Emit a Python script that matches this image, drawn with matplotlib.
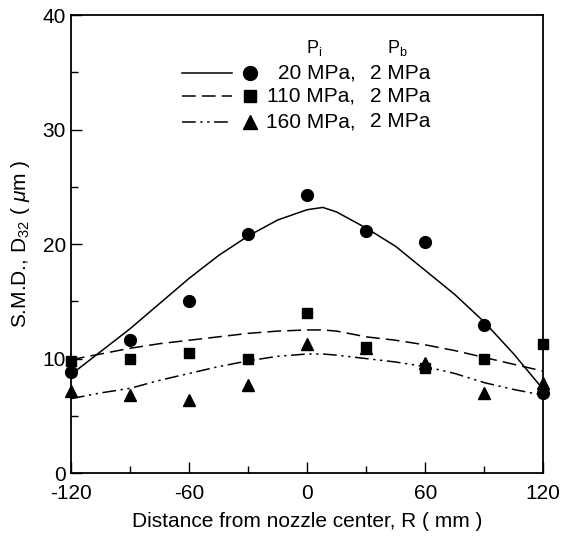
import matplotlib
matplotlib.use("Agg")
import matplotlib.pyplot as plt

plt.rcParams['font.family'] = ['Liberation Sans', 'DejaVu Sans']
plt.rcParams['mathtext.fontset'] = 'custom'
plt.rcParams['mathtext.rm'] = 'Liberation Sans'
plt.rcParams['mathtext.it'] = 'Liberation Sans:italic'
plt.rcParams['axes.unicode_minus'] = False

# measured points
r_pts = [-120, -90, -60, -30, 0, 30, 60, 90, 120]
smd_20 = [8.8, 11.6, 15.0, 20.9, 24.3, 21.1, 20.2, 12.9, 7.0]
smd_110 = [9.8, 10.0, 10.5, 10.0, 14.0, 11.0, 9.2, 10.0, 11.3]
smd_160 = [7.2, 6.8, 6.4, 7.7, 11.3, 10.9, 9.6, 7.0, 7.9]

# fitted curves
r_fit = [-120, -105, -90, -75, -60, -45, -30, -15, 0, 8, 15, 30, 45, 60, 75, 90, 105, 120]
fit_20 = [8.6, 10.6, 12.6, 14.8, 17.0, 19.0, 20.7, 22.1, 23.0, 23.2, 22.8, 21.4, 19.8, 17.7, 15.6, 13.2, 10.4, 7.3]
fit_110 = [9.9, 10.4, 10.9, 11.3, 11.6, 11.9, 12.2, 12.4, 12.5, 12.5, 12.4, 11.9, 11.6, 11.2, 10.7, 10.1, 9.5, 8.9]
fit_160 = [6.5, 7.0, 7.4, 8.1, 8.7, 9.3, 9.8, 10.2, 10.4, 10.4, 10.3, 10.0, 9.7, 9.3, 8.7, 7.9, 7.3, 6.8]

labels_pi = ["20 MPa,", "110 MPa,", "160 MPa,"]
labels_pb = ["2 MPa", "2 MPa", "2 MPa"]

fig = plt.figure(figsize=(5.63, 5.37), dpi=100)
ax = fig.add_axes([0.126, 0.119, 0.839, 0.853])

styles = ['-', (0, (9, 4)), (0, (9, 3, 1.5, 3, 1.5, 3))]
markers = ['o', 's', '^']
msizes = [8.5, 7.5, 8.5]
fits = [fit_20, fit_110, fit_160]
pts = [smd_20, smd_110, smd_160]

for fit, p, ls, mk, ms in zip(fits, pts, styles, markers, msizes):
    ax.plot(r_fit, fit, color='black', linestyle=ls, lw=1.1)
    ax.plot(r_pts, p, linestyle='none', marker=mk, color='black', ms=ms, clip_on=False)

# legend drawn by hand to mimic the original layout
leg_y = [34.9, 32.9, 30.7]
ax.text(3.5, 37.1, "P$_\\mathregular{i}$", fontsize=13, ha='center', va='center')
ax.text(46, 37.1, "P$_\\mathregular{b}$", fontsize=13, ha='center', va='center')
for y, ls, mk, ms, a, b in zip(leg_y, styles, markers, msizes, labels_pi, labels_pb):
    ax.plot([-63.5, -38], [y, y], color='black', linestyle=ls, lw=1.1)
    ax.plot([-29], [y], marker=mk, color='black', ms=ms + 1.5, linestyle='none')
    ax.text(24.5, y, a, fontsize=15, ha='right', va='center')
    ax.text(32, y, b, fontsize=15, ha='left', va='center')

ax.set_xlim(-120, 120)
ax.set_ylim(0, 40)
ax.set_xticks([-120, -60, 0, 60, 120])
ax.set_xticks([-90, -30, 30, 90], minor=True)
ax.set_yticks([0, 10, 20, 30, 40])
ax.set_yticks([5, 15, 25, 35], minor=True)
ax.tick_params(direction='in', length=8, width=1, labelsize=15)
ax.tick_params(which='minor', direction='in', length=5, width=1)
ax.tick_params(axis='x', pad=8)
for s in ax.spines.values():
    s.set_linewidth(1.3)

ax.set_xlabel("Distance from nozzle center, R ( mm )", fontsize=15, labelpad=6)
ax.set_ylabel("S.M.D., D$_{32}$ ( $\\mu$m )", fontsize=15, labelpad=8)

fig.savefig("out.png", dpi=100)
